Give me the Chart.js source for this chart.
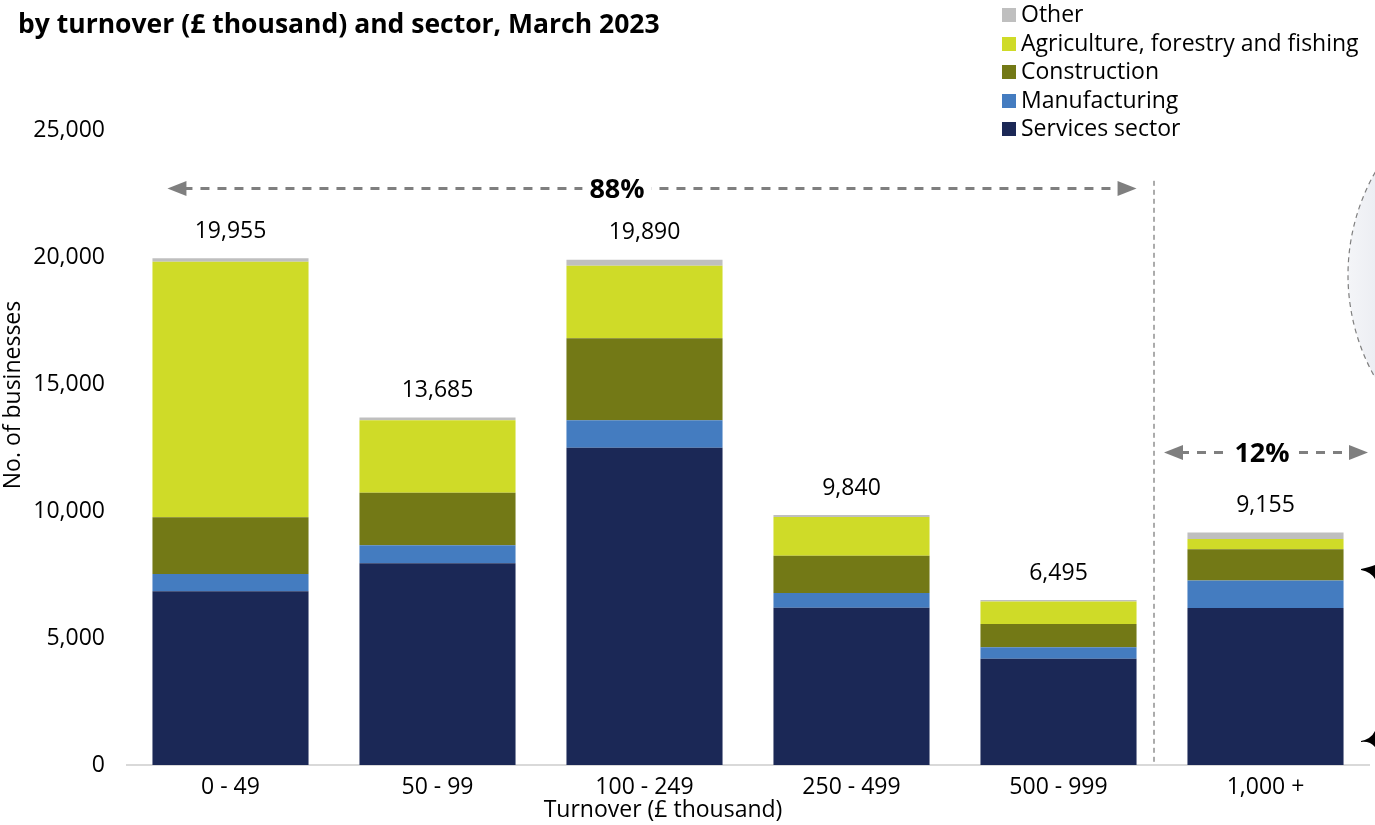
<!DOCTYPE html>
<html>
<head>
<meta charset="utf-8">
<script src="https://cdn.jsdelivr.net/npm/chart.js@4.4.1/dist/chart.umd.min.js"></script>
<style>
  body { margin:0; background:#fff; font-family:"Open Sans", sans-serif; }
  #wrap { position:relative; width:1375px; height:825px; overflow:hidden; }
  #title { position:absolute; left:18px; top:5px; font-weight:bold; font-size:26.5px; line-height:36px; color:#000; white-space:nowrap; }
  #legend { position:absolute; left:1002px; top:-1px; font-size:23px; color:#000; }
  #legend div { height:28.5px; line-height:28.5px; white-space:nowrap; }
  #legend span { display:inline-block; width:14px; height:14px; margin-right:5px; vertical-align:0px; }
</style>
</head>
<body>
<div id="wrap">
  <canvas id="turnoverChart" width="1375" height="825"></canvas>
  <div id="title">by turnover (£ thousand) and sector, March 2023</div>
  <div id="legend"></div>
</div>
<script>
var bands = ['0 - 49', '50 - 99', '100 - 249', '250 - 499', '500 - 999', '1,000 +'];
var services      = [6840, 7940, 12490, 6190, 4185, 6180];
var manufacturing = [680, 710, 1080, 580, 450, 1080];
var construction  = [2230, 2070, 3230, 1470, 920, 1230];
var agriculture   = [10065, 2850, 2860, 1520, 880, 410];
var other         = [140, 115, 230, 80, 60, 255];
var totals        = [19955, 13685, 19890, 9840, 6495, 9155];
var yTicks        = [0, 5000, 10000, 15000, 20000, 25000];

var font = '"Open Sans", sans-serif';
Chart.defaults.font.family = font;
Chart.defaults.color = '#000';

function dataSet(label, data, color){
  return { label: label, data: data, backgroundColor: color, borderWidth: 0,
           barPercentage: 0.754, categoryPercentage: 1 };
}

function arrow(ctx, x1, x2, y){
  ctx.save();
  ctx.strokeStyle = '#7f7f7f'; ctx.fillStyle = '#7f7f7f';
  ctx.lineWidth = 3; ctx.setLineDash([9, 8]);
  ctx.beginPath(); ctx.moveTo(x1 + 16, y); ctx.lineTo(x2 - 16, y); ctx.stroke();
  ctx.setLineDash([]);
  ctx.beginPath(); ctx.moveTo(x1, y); ctx.lineTo(x1 + 19, y - 7.5); ctx.lineTo(x1 + 19, y + 7.5); ctx.fill();
  ctx.beginPath(); ctx.moveTo(x2, y); ctx.lineTo(x2 - 19, y - 7.5); ctx.lineTo(x2 - 19, y + 7.5); ctx.fill();
  ctx.restore();
}

function pctLabel(ctx, text, x, y){
  ctx.save();
  ctx.font = 'bold 27px ' + font;
  var w = ctx.measureText(text).width;
  ctx.fillStyle = '#fff';
  ctx.fillRect(x - w / 2 - 7, y - 15, w + 14, 30);
  ctx.fillStyle = '#000'; ctx.textAlign = 'center'; ctx.textBaseline = 'middle';
  ctx.fillText(text, x, y + 2);
  ctx.restore();
}

var extras = {
  id: 'extras',
  beforeDatasetsDraw: function(chart){
    var ctx = chart.ctx, xs = chart.scales.x, ys = chart.scales.y;
    // circle cut by the right edge
    ctx.save();
    var g = ctx.createLinearGradient(1348, 0, 1375, 0);
    g.addColorStop(0, '#f4f5f8'); g.addColorStop(1, '#eceef3');
    ctx.fillStyle = g;
    ctx.strokeStyle = '#7f7f7f'; ctx.lineWidth = 1.2; ctx.setLineDash([5, 4]);
    ctx.beginPath(); ctx.arc(1556, 275, 208, 0, Math.PI * 2); ctx.fill(); ctx.stroke();
    ctx.restore();
    // divider between the groups
    var xd = xs.getPixelForValue(4.5) - 8;
    ctx.save();
    ctx.strokeStyle = '#595959'; ctx.lineWidth = 1; ctx.setLineDash([5, 4]);
    ctx.beginPath(); ctx.moveTo(xd, ys.getPixelForValue(23000)); ctx.lineTo(xd, ys.getPixelForValue(0)); ctx.stroke();
    ctx.restore();
  },
  afterDatasetsDraw: function(chart){
    var ctx = chart.ctx, xs = chart.scales.x, ys = chart.scales.y;
    var meta = chart.getDatasetMeta(chart.data.datasets.length - 1);
    ctx.save();
    ctx.font = '23px ' + font; ctx.fillStyle = '#000';
    ctx.textAlign = 'center'; ctx.textBaseline = 'middle';
    meta.data.forEach(function(bar, i){
      ctx.fillText(totals[i].toLocaleString('en-GB'), bar.x, bar.y - 27);
    });
    ctx.restore();
    var half = meta.data[0].width / 2;
    var y88 = ys.getPixelForValue(22700);
    arrow(ctx, xs.getPixelForValue(0) - half + 15, xs.getPixelForValue(4) + half, y88);
    pctLabel(ctx, '88%', 617, y88);
    var y12 = ys.getPixelForValue(12300);
    arrow(ctx, xs.getPixelForValue(4.5) + 2, chart.chartArea.right - 1, y12);
    pctLabel(ctx, '12%', 1262, y12);
    // brace tips at the right edge
    ctx.save();
    ctx.fillStyle = '#000';
    ctx.beginPath(); ctx.moveTo(1361, 569); ctx.quadraticCurveTo(1370, 567, 1375, 565); ctx.lineTo(1375, 579); ctx.quadraticCurveTo(1371, 572, 1361, 570); ctx.fill();
    ctx.beginPath(); ctx.moveTo(1361, 742); ctx.quadraticCurveTo(1370, 741, 1375, 747); ctx.lineTo(1375, 731); ctx.quadraticCurveTo(1371, 739, 1361, 741); ctx.fill();
    ctx.restore();
    // axis titles
    ctx.save();
    ctx.font = '23px ' + font; ctx.fillStyle = '#000';
    ctx.textAlign = 'center'; ctx.textBaseline = 'middle';
    ctx.fillText('Turnover (£ thousand)', 663, 810);
    ctx.translate(13, 395); ctx.rotate(-Math.PI / 2);
    ctx.fillText('No. of businesses', 0, 0);
    ctx.restore();
  }
};

var turnoverChart = new Chart(document.getElementById('turnoverChart').getContext('2d'), {
  type: 'bar',
  data: {
    labels: bands,
    datasets: [
      dataSet('Services sector', services, '#1b2856'),
      dataSet('Manufacturing', manufacturing, '#447cc0'),
      dataSet('Construction', construction, '#737916'),
      dataSet('Agriculture, forestry and fishing', agriculture, '#cfdb28'),
      dataSet('Other', other, '#bfbfbf')
    ]
  },
  options: {
    responsive: false, animation: false,
    layout: { padding: { top: 130, left: 0, right: 6, bottom: 0 } },
    plugins: { legend: { display: false }, tooltip: { enabled: false } },
    scales: {
      x: {
        stacked: true,
        grid: { display: false, drawTicks: false },
        border: { display: true, color: '#d9d9d9', width: 2 },
        ticks: { font: { size: 23 }, padding: 9, maxRotation: 0 },
        afterFit: function(s){ s.height = 60; }
      },
      y: {
        stacked: true, min: 0, max: 25000,
        grid: { display: false, drawTicks: false },
        border: { display: false },
        afterBuildTicks: function(s){ s.ticks = yTicks.map(function(v){ return { value: v }; }); },
        ticks: { font: { size: 23 }, padding: 22, callback: function(v){ return v.toLocaleString('en-GB'); } },
        afterFit: function(s){ s.width = 127; }
      }
    }
  },
  plugins: [extras]
});

// legend, top item first
var legendHtml = '';
turnoverChart.data.datasets.slice().reverse().forEach(function(d){
  legendHtml += '<div><span style="background:' + d.backgroundColor + '"></span>' + d.label + '</div>';
});
document.getElementById('legend').innerHTML = legendHtml;
</script>
</body>
</html>
